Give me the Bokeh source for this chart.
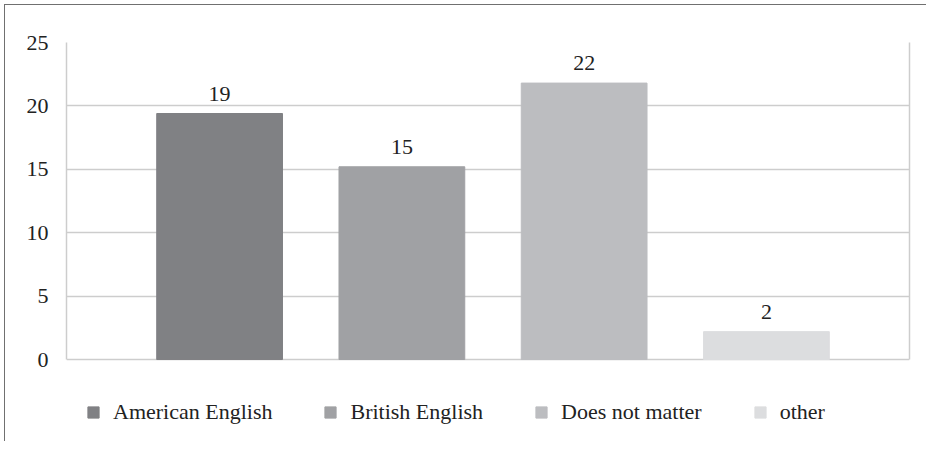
from bokeh.plotting import figure
from bokeh.models import ColumnDataSource, Range1d, LabelSet, Legend, LegendItem, LinearAxis, FixedTicker
from bokeh.embed import file_html
from bokeh.resources import INLINE

categories = ["American English", "British English", "Does not matter", "other"]
values = [19.4, 15.2, 21.8, 2.2]
colors = ["#808184", "#a0a1a4", "#bcbdc0", "#dcdddf"]
y_ticks = [0, 5, 10, 15, 20, 25]

FONT = "Times"
FSIZE = "22px"
LINE = "#cdcdcd"

src = ColumnDataSource(dict(
    x=list(range(len(categories))),
    top=values,
    cat=categories,
    color=colors,
    label=[f"{v:.0f}" for v in values],
))

p = figure(frame_width=843, frame_height=394, output_backend="svg", toolbar_location=None,
           x_range=Range1d(-0.84, 3.785), y_range=Range1d(-6.07, 25),
           min_border_left=61, min_border_top=37, min_border_right=17, min_border_bottom=5)
p.styles = {"border-top": "1px solid #707070", "border-left": "1px solid #707070",
            "margin-top": "4px", "margin-left": "4px"}

r = p.vbar(x="x", top="top", bottom=0, width=0.69, color="color", source=src)

labels = LabelSet(x="x", y="top", text="label", source=src, text_align="center",
                  text_baseline="alphabetic", y_offset=13, text_font=FONT,
                  text_font_size=FSIZE, text_color="#222222")
p.add_layout(labels)

p.xaxis.visible = False
p.xgrid.visible = False
p.outline_line_color = None
p.ygrid.ticker = FixedTicker(ticks=y_ticks)
p.ygrid.grid_line_color = LINE
p.ygrid.grid_line_width = 1.5
p.yaxis.ticker = FixedTicker(ticks=y_ticks)
p.yaxis.bounds = (0, 25)
p.yaxis.major_tick_line_color = None
p.yaxis.minor_tick_line_color = None
p.yaxis.axis_line_color = LINE
p.yaxis.axis_line_width = 1.5
p.yaxis.major_label_standoff = 12
p.yaxis.major_label_text_font = FONT
p.yaxis.major_label_text_font_size = FSIZE
p.yaxis.major_label_text_color = "#222222"

right_axis = LinearAxis(bounds=(0, 25), ticker=FixedTicker(ticks=y_ticks),
                        major_label_text_alpha=0, major_tick_line_color=None,
                        minor_tick_line_color=None, axis_line_color=LINE, axis_line_width=1.5,
                        major_label_text_font_size="1px")
p.add_layout(right_axis, "right")

legend = Legend(items=[LegendItem(label=c, renderers=[r], index=i) for i, c in enumerate(categories)],
                orientation="horizontal", location=(20, 11),
                glyph_width=14, glyph_height=14, label_standoff=13, spacing=51,
                label_text_font=FONT, label_text_font_size=FSIZE, label_text_color="#222222",
                border_line_alpha=0, background_fill_alpha=0, padding=0, margin=0)
p.add_layout(legend)

open("out.html", "w").write(file_html(p, INLINE))
